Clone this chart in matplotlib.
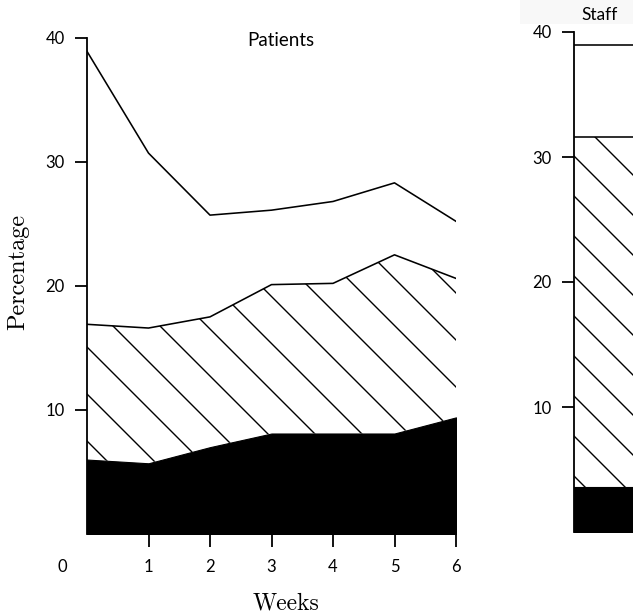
import numpy as np
import matplotlib
matplotlib.use("Agg")
import matplotlib.pyplot as plt
import matplotlib.transforms as mtransforms
from matplotlib.patches import Rectangle

# ---------------- data ----------------
weeks = [0, 1, 2, 3, 4, 5, 6]
patients_black = [6.0, 5.7, 7.0, 8.1, 8.1, 8.1, 9.4]
patients_hatch = [16.9, 16.6, 17.5, 20.1, 20.2, 22.5, 20.6]
patients_total = [38.9, 30.7, 25.7, 26.1, 26.8, 28.3, 25.2]

staff_weeks = [0, 1]
staff_black = [3.6, 3.6]
staff_hatch = [31.6, 31.6]
staff_total = [39.0, 39.0]

yticks = [10, 20, 30, 40]
xticks = [1, 2, 3, 4, 5, 6]

W, H = 633, 616
DPI = 100
fig = plt.figure(figsize=(W / DPI, H / DPI), dpi=DPI)
fig.patch.set_facecolor("white")

TICKFONT = "Lato"
SERIF = "cmr10"


def px_axes(left, top_y0, top_y40, width):
    """axes rect from pixel positions (y measured from the top)."""
    bottom = (H - top_y0) / H
    height = (top_y0 - top_y40) / H
    return [left / W, bottom, width / W, height]


def style_axes(ax, show_xticks=True):
    ax.set_xlim(0, 6)
    ax.set_ylim(0, 40)
    for s in ("top", "right", "bottom"):
        ax.spines[s].set_visible(False)
    ax.spines["left"].set_linewidth(1.3)
    ax.set_yticks(yticks)
    ax.set_yticklabels([str(v) for v in yticks], fontfamily=TICKFONT, fontsize=12)
    ax.tick_params(axis="y", direction="out", length=9, width=1.3, pad=7)
    if show_xticks:
        ax.set_xticks(xticks)
        ax.set_xticklabels([str(v) for v in xticks], fontfamily=TICKFONT, fontsize=12)
        ax.tick_params(axis="x", direction="out", length=9, width=1.3, pad=9)
    else:
        ax.set_xticks([])
    ax.patch.set_alpha(0)


def hatch_region(ax, x, lower, upper, c0, period, lw=1.0):
    poly = ax.fill_between(x, lower, upper, facecolor="white", edgecolor="none", zorder=1)
    path = poly.get_paths()[0]
    ident = mtransforms.IdentityTransform()
    # lines of slope -45 deg in picture (y_top = x + c)
    cs = np.arange(c0 - 30 * period, c0 + 30 * period, period)
    xs = np.array([-50, W + 50], dtype=float)
    for c in cs:
        ytop = xs + c
        ln, = ax.plot(xs, H - ytop, color="black", lw=lw, transform=ident, zorder=2)
        ln.set_clip_path(path, ax.transData)


# very faint band behind the "Staff" caption (scan artefact of the source)
fig.patches.append(Rectangle((520 / W, 1 - 24 / H), 1 - 520 / W, 24 / H,
                             transform=fig.transFigure, facecolor="#f8f8f8",
                             edgecolor="none", zorder=0))

# ---------------- Patients ----------------
ax1 = fig.add_axes(px_axes(87, 534, 37.7, 369))
style_axes(ax1)
ax1.fill_between(weeks, 0, patients_black, facecolor="black", edgecolor="black", lw=0.8, zorder=3)
hatch_region(ax1, weeks, patients_black, patients_hatch, c0=260, period=47)
ax1.plot(weeks, patients_hatch, color="black", lw=1.15, zorder=4)
ax1.plot(weeks, patients_total, color="black", lw=1.15, zorder=4)
ax1.text(0.525, 0.995, "Patients", transform=ax1.transAxes, ha="center", va="center",
         fontfamily=TICKFONT, fontsize=13.5)

# ---------------- Staff ----------------
ax2 = fig.add_axes(px_axes(574, 532, 32, 369))
style_axes(ax2, show_xticks=False)
ax2.fill_between(staff_weeks, 0, staff_black, facecolor="black", edgecolor="black", lw=0.8, zorder=3)
hatch_region(ax2, staff_weeks, staff_black, staff_hatch, c0=-178, period=40)
ax2.plot(staff_weeks, staff_hatch, color="black", lw=1.15, zorder=4)
ax2.plot(staff_weeks, staff_total, color="black", lw=1.15, zorder=4)

fig.text(600 / W, 1 - 15 / H, "Staff", ha="center", va="center", fontfamily=TICKFONT, fontsize=12.5)

# ---------------- labels ----------------
fig.text(62 / W, 1 - 567 / H, "0", ha="center", va="center", fontfamily=TICKFONT, fontsize=12)
fig.text(18 / W, 1 - 272 / H, "Percentage", rotation=90, ha="center", va="center",
         fontfamily=SERIF, fontsize=17.5)
fig.text(286 / W, 1 - 603 / H, "Weeks", ha="center", va="center", fontfamily=SERIF, fontsize=17)

fig.savefig("out.png", dpi=DPI, facecolor="white")
